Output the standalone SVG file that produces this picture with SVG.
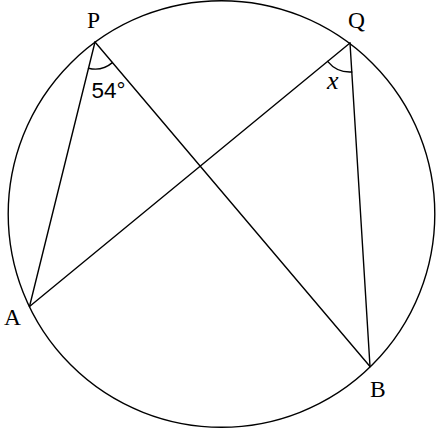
<svg xmlns="http://www.w3.org/2000/svg" width="440" height="428" viewBox="0 0 440 428">
<style>
.ln{fill:none;stroke:#000;stroke-width:1.4;stroke-linecap:round}
.lbl{font-family:"Liberation Serif","DejaVu Serif",serif;font-size:23.5px;fill:#000}
.num{font-family:"Liberation Sans","DejaVu Sans",sans-serif;font-size:22.5px;fill:#000}
.var{font-family:"Liberation Serif","DejaVu Serif",serif;font-size:26px;font-style:italic;fill:#000}
</style>
<rect width="440" height="428" fill="#fff"/>
<g id="circle"><circle class="ln" cx="221.5" cy="214" r="213.3"/></g>
<g id="connectors">
<line class="ln" x1="95" y1="42" x2="29.5" y2="306.5"/>
<line class="ln" x1="95" y1="42" x2="370" y2="366.5"/>
<line class="ln" x1="350" y1="43" x2="29.5" y2="306.5"/>
<line class="ln" x1="350" y1="43" x2="370" y2="366.5"/>
<path class="ln" d="M88.5,68.2 A27,27 0 0 0 112.4,62.6"/>
<path class="ln" d="M327.6,61.4 A29,29 0 0 0 351.8,72"/>
</g>
<g id="P"><text class="lbl" x="87" y="28">P</text></g>
<g id="Q"><text class="lbl" x="348" y="28">Q</text></g>
<g id="A"><text class="lbl" x="4" y="325">A</text></g>
<g id="B"><text class="lbl" x="370" y="397">B</text></g>
<g id="angleP"><text class="num" x="91.5" y="97.5">54°</text></g>
<g id="angleQ"><text class="var" x="327" y="89">x</text></g>
</svg>
